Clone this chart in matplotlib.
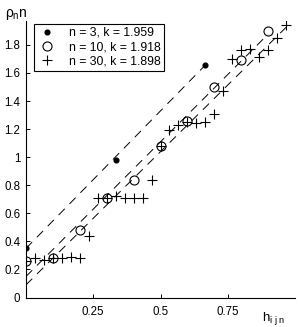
import numpy as np
import matplotlib
matplotlib.use("Agg")
import matplotlib.pyplot as plt

plt.rcParams['font.family'] = ['Liberation Sans', 'DejaVu Sans']
plt.rcParams['mathtext.fontset'] = 'custom'
plt.rcParams['mathtext.rm'] = 'Liberation Sans'
plt.rcParams['mathtext.it'] = 'Liberation Sans'

# data
n_values = [3, 10, 30]
k_values = [1.959, 1.918, 1.898]
intercepts = [0.35, 0.15, 0.09]
y_n3 = [0.35, 0.98, 1.66]
y_n10 = [0.26, 0.28, 0.48, 0.71, 0.84, 1.08, 1.26, 1.50, 1.69, 1.90]
y_n30 = [0.26, 0.28, 0.27, 0.28, 0.28, 0.29, 0.28, 0.44, 0.71, 0.71,
         0.72, 0.71, 0.71, 0.71, 0.84, 1.08, 1.19, 1.23, 1.25, 1.24,
         1.25, 1.31, 1.47, 1.70, 1.76, 1.77, 1.71, 1.76, 1.85, 1.94]
xticks = [0.25, 0.5, 0.75]
xticklabels = ['0.25', '0.5', '0.75']
yticks = [0, 0.2, 0.4, 0.6, 0.8, 1.0, 1.2, 1.4, 1.6, 1.8]
yticklabels = ['0', '0.2', '0.4', '0.6', '0.8', '1', '1.2', '1.4', '1.6', '1.8']

fig = plt.figure(figsize=(3.06, 3.27), dpi=100)
ax = fig.add_axes([26/306, 1-297.5/327, 269/306, 276.5/327])

series = [y_n3, y_n10, y_n30]
markers = [dict(marker='o', ms=3.4, mfc='black', mec='black'),
           dict(marker='o', ms=6.5, mfc='none', mec='black', mew=0.8),
           dict(marker='+', ms=7.5, mec='black', mew=0.8)]
for n, k, b, ys, mk in zip(n_values, k_values, intercepts, series, markers):
    h = np.arange(len(ys)) / n
    ax.plot(h, ys, linestyle='none', color='black',
            label=f'n = {n}, k = {k}', **mk)
    hl = np.array([0, (n - 1) / n])
    ax.plot(hl, k * hl + b, color='black', lw=0.7,
            linestyle=(0, (9, 7)), zorder=1)

ax.set_xlim(0, 1.0)
ax.set_ylim(0, 1.97)
ax.set_xticks(xticks)
ax.set_xticklabels(xticklabels)
ax.set_yticks(yticks)
ax.set_yticklabels(yticklabels)
ax.tick_params(direction='in', length=3, width=0.7, labelsize=8.3, pad=4)
ax.tick_params(axis='x', pad=6)
for s in ['top', 'right']:
    ax.spines[s].set_visible(False)
for s in ['left', 'bottom']:
    ax.spines[s].set_linewidth(0.8)

leg = ax.legend(loc='upper left', bbox_to_anchor=(0.03, 0.99), fontsize=8.8,
                frameon=True, fancybox=False, framealpha=1, borderpad=0.25,
                handlelength=1.6, handletextpad=1.0, labelspacing=0.2,
                borderaxespad=0)
leg.get_frame().set_edgecolor('black')
leg.get_frame().set_linewidth(0.8)

fig.text(5/306, 1-15/327, r'$ρ_{n}n$', fontsize=10, va='center', ha='left')
fig.text(262/306, 1-318/327, r'$h_{i\ j\ n}$', fontsize=9.5, va='center', ha='left')

fig.savefig('out.png', dpi=100)
